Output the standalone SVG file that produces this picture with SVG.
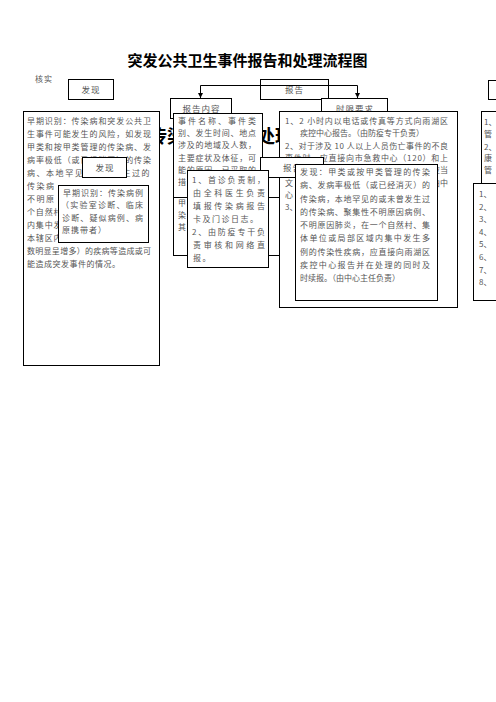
<svg xmlns="http://www.w3.org/2000/svg" width="496" height="702" viewBox="0 0 496 702">
<style>
.bg{fill:#fff}
.box{fill:#fff;stroke:#000;stroke-width:1}
.t{font-family:"Noto Sans CJK SC","Noto Sans",sans-serif;font-size:8px;fill:#555}
.j14{letter-spacing:0.857px}
.j13{letter-spacing:1.54px}
.lbl{font-family:"Noto Sans CJK SC","Noto Sans",sans-serif;font-size:8.5px;fill:#555;letter-spacing:1px;text-anchor:middle}
.title{font-family:"Noto Sans CJK SC","Noto Sans",sans-serif;font-weight:bold;fill:#000;text-anchor:middle}
.conn{fill:none;stroke:#000;stroke-width:1}
</style>
<defs>
<marker id="arr" viewBox="0 0 10 10" refX="10" refY="5" markerWidth="5" markerHeight="5" orient="auto" markerUnits="userSpaceOnUse">
<path d="M0,0 L10,5 L0,10 z" fill="#000"/>
</marker>
</defs>
<rect class="bg" x="0" y="0" width="496" height="702"/>

<g id="title1">
<text class="title" x="247.5" y="65.5" font-size="15">突发公共卫生事件报告和处理流程图</text>
</g>
<g id="label-hesh">
<text class="t" x="35" y="82" font-size="8.5" style="letter-spacing:1px">核实</text>
</g>
<g id="title2">
<text class="title" x="248" y="143" font-size="18">传染病报告和处理流程图</text>
</g>

<!-- chart 1 nodes -->
<g id="node-faxian1">
<rect class="box" x="68.5" y="79.5" width="45" height="20"/>
<text class="lbl" x="91" y="92.5">发现</text>
</g>
<g id="node-baogao1">
<rect class="box" x="260.5" y="79.5" width="68" height="20"/>
<text class="lbl" x="294.5" y="92.5">报告</text>
</g>
<g id="node-chuli1">
<rect class="box" x="488.5" y="80.5" width="30" height="19"/>
</g>
<g id="node-baogaoneirong1">
<rect class="box" x="170.5" y="98.5" width="61" height="20"/>
<text class="lbl" x="201.5" y="111.5">报告内容</text>
</g>
<g id="node-shixian1">
<rect class="box" x="321.5" y="98.5" width="66" height="20"/>
<text class="lbl" x="355" y="111.5">时限要求</text>
</g>
<g id="node-zaoqi1">
<rect class="box" x="23.5" y="111.5" width="136" height="254"/>
<text class="t" x="27" y="124" textLength="124">早期识别：传染病和突发公共卫</text>
<text class="t" x="27" y="137" textLength="124">生事件可能发生的风险，如发现</text>
<text class="t" x="27" y="150" textLength="124">甲类和按甲类管理的传染病、发</text>
<text class="t" x="27" y="163" textLength="124">病率极低（或已经消灭）的传染</text>
<text class="t j13" x="27" y="176">病、本地罕见</text>
<text class="t j13" x="122.4" y="176">生过的</text>
<text class="t j13" x="27" y="189">传染病</text>
<text class="t j13" x="27" y="202">不明原</text>
<text class="t j14" x="27" y="215">个自然村</text>
<text class="t j14" x="27" y="228">内集中发</text>
<text class="t j14" x="27" y="241">本辖区内</text>
<text class="t" x="27" y="254" textLength="124">数明显呈增多）的疾病等造成或可</text>
<text class="t" x="27" y="267" style="letter-spacing:0.5px">能造成突发事件的情况。</text>
</g>
<g id="node-neirong1">
<rect class="box" x="173.5" y="113.5" width="89" height="142"/>
<text class="t" x="178" y="124" textLength="78">事件名称、事件类</text>
<text class="t" x="178" y="136.2" textLength="78">别、发生时间、地点</text>
<text class="t" x="178" y="148.4" textLength="78">涉及的地域及人数，</text>
<text class="t" x="178" y="160.6" textLength="78">主要症状及体征，可</text>
<text class="t" x="178" y="172.8" textLength="78">能的原因、已采取的</text>
<text class="t" x="178" y="185">措</text>
</g>
<g id="node-shixianneirong1">
<rect class="box" x="279.5" y="111.5" width="178" height="196"/>
<text class="t" x="285" y="124" textLength="163">1、2 小时内以电话或传真等方式向雨湖区</text>
<text class="t" x="300" y="136.3">疾控中心报告。（由防疫专干负责）</text>
<text class="t" x="285" y="148.6" textLength="163">2、对于涉及 10 人以上人员伤亡事件的不良</text>
<text class="t" x="285" y="160.9" textLength="163">事件时，应直接向市急救中心（120）和上</text>
<text class="t" x="432" y="173.2">应当</text>
<text class="t" x="285" y="185.5">文</text>
<text class="t" x="432" y="185.5">由中</text>
<text class="t" x="285" y="197.8">心</text>
<text class="t" x="285" y="210.1">3、</text>
</g>
<g id="node-chuli-a">
<rect class="box" x="481.5" y="111.5" width="30" height="80"/>
<text class="t" x="484" y="125">1、</text>
<text class="t" x="484" y="137">管</text>
<text class="t" x="484" y="149.5">2、</text>
<text class="t" x="484" y="161">康</text>
<text class="t" x="484" y="173">管</text>
</g>
<g id="node-chuli-b">
<rect class="box" x="473.5" y="183.5" width="40" height="117"/>
<text class="t" x="479" y="197">1、</text>
<text class="t" x="479" y="209.6">2、</text>
<text class="t" x="479" y="222.2">3、</text>
<text class="t" x="479" y="234.8">4、</text>
<text class="t" x="479" y="247.4">5、</text>
<text class="t" x="479" y="260">6、</text>
<text class="t" x="479" y="272.6">7、</text>
<text class="t" x="479" y="285.2">8、</text>
</g>

<g id="connectors">
<path class="conn" d="M280,85.5 H200.5 V98" marker-end="url(#arr)"/>
<path class="conn" d="M280,85.5 H357.5 V98" marker-end="url(#arr)"/>
</g>

<!-- chart 2 nodes (overlaid) -->
<g id="node-faxian2">
<rect class="box" x="82.5" y="157.5" width="44" height="20"/>
<text class="lbl" x="105" y="170.5">发现</text>
</g>
<g id="node-zaoqi2">
<rect class="box" x="58.5" y="185.5" width="90" height="57"/>
<text class="t" x="63" y="196" textLength="80">早期识别：传染病例</text>
<text class="t" x="61" y="208" textLength="82">（实验室诊断、临床</text>
<text class="t" x="62" y="220.5" textLength="81">诊断、疑似病例、病</text>
<text class="t" x="62" y="233" style="letter-spacing:1px">原携带者）</text>
</g>
<g id="node-baogao2">
<rect class="box" x="260.5" y="157.5" width="63" height="20"/>
<text class="lbl" x="292.5" y="170.5">报告</text>
</g>
<g id="node-neirong2">
<rect class="box" x="173.5" y="197.5" width="106" height="58"/>
<text class="t" x="178" y="206">甲</text>
<text class="t" x="178" y="218">染</text>
<text class="t" x="178" y="230">其</text>
</g>
<g id="node-shouzhen">
<rect class="box" x="187.5" y="170.5" width="81" height="97"/>
<text class="t" x="192" y="183" textLength="73">1、首诊负责制，</text>
<text class="t" x="193" y="196" textLength="72">由全科医生负责</text>
<text class="t" x="193" y="209" textLength="72">填报传染病报告</text>
<text class="t" x="193" y="222" style="letter-spacing:1.5px">卡及门诊日志。</text>
<text class="t" x="192" y="235" textLength="73">2、由防疫专干负</text>
<text class="t" x="193" y="248" textLength="72">责审核和网络直</text>
<text class="t" x="193" y="261" style="letter-spacing:1.5px">报。</text>
</g>
<g id="node-faxian-jialei">
<rect class="box" x="295.5" y="164.5" width="142" height="136"/>
<text class="t" x="300" y="175" textLength="130">发现：甲类或按甲类管理的传染</text>
<text class="t" x="300" y="188.25" textLength="130">病、发病率极低（或已经消灭）的</text>
<text class="t" x="300" y="201.5" textLength="130">传染病，本地罕见的或未曾发生过</text>
<text class="t" x="300" y="214.75" textLength="130">的传染病、聚集性不明原因病例、</text>
<text class="t" x="300" y="228" textLength="130">不明原因肺炎，在一个自然村、集</text>
<text class="t" x="300" y="241.25" textLength="130">体单位或局部区域内集中发生多</text>
<text class="t" x="300" y="254.5" textLength="130">例的传染性疾病，应直接向雨湖区</text>
<text class="t" x="300" y="267.75" textLength="130">疾控中心报告并在处理的同时及</text>
<text class="t" x="300" y="281">时续报。（由中心主任负责）</text>
</g>
</svg>
